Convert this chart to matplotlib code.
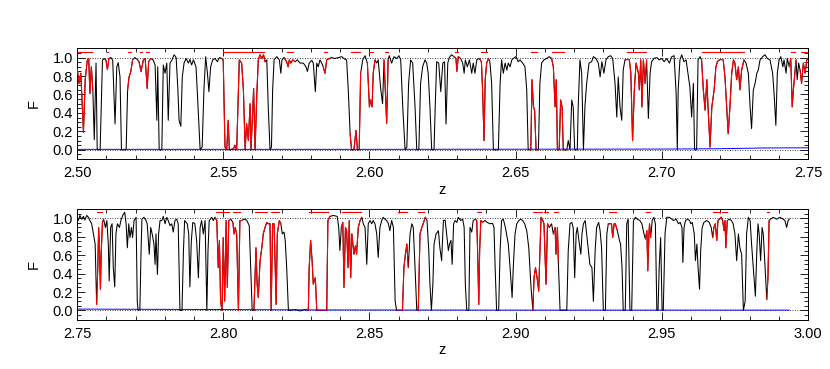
import numpy as np
import matplotlib
matplotlib.use('Agg')
import matplotlib.pyplot as plt
from matplotlib.ticker import MultipleLocator, FormatStrFormatter

plt.rcParams['font.family'] = ['Liberation Sans', 'DejaVu Sans']

# ---- upper panel, 2.50 < z < 2.75 ----
z_top = [2.5001, 2.5007, 2.5013, 2.5022, 2.5028, 2.5035, 2.5040, 2.5044, 2.5049, 2.5054,
         2.5059, 2.5065, 2.5069, 2.5079, 2.5087, 2.5093, 2.5099, 2.5104, 2.5109, 2.5116,
         2.5122, 2.5130, 2.5136, 2.5141, 2.5147, 2.5152, 2.5168, 2.5173, 2.5178, 2.5184,
         2.5190, 2.5198, 2.5206, 2.5212, 2.5219, 2.5227, 2.5233, 2.5240, 2.5245, 2.5252,
         2.5260, 2.5267, 2.5273, 2.5276, 2.5281, 2.5290, 2.5295, 2.5301, 2.5307, 2.5312,
         2.5318, 2.5325, 2.5332, 2.5339, 2.5345, 2.5349, 2.5355, 2.5360, 2.5366, 2.5373,
         2.5381, 2.5386, 2.5392, 2.5398, 2.5407, 2.5411, 2.5421, 2.5428, 2.5434, 2.5440,
         2.5446, 2.5451, 2.5457, 2.5464, 2.5472, 2.5480, 2.5487, 2.5495, 2.5500, 2.5506,
         2.5512, 2.5517, 2.5521, 2.5535, 2.5540, 2.5546, 2.5555, 2.5563, 2.5569, 2.5575,
         2.5580, 2.5586, 2.5592, 2.5595, 2.5601, 2.5604, 2.5609, 2.5615, 2.5620, 2.5626,
         2.5632, 2.5638, 2.5643, 2.5649, 2.5654, 2.5660, 2.5665, 2.5669, 2.5674, 2.5683,
         2.5692, 2.5697, 2.5701, 2.5708, 2.5717, 2.5722, 2.5726, 2.5731, 2.5738, 2.5746,
         2.5753, 2.5763, 2.5774, 2.5783, 2.5788, 2.5794, 2.5803, 2.5808, 2.5815, 2.5820,
         2.5825, 2.5831, 2.5837, 2.5842, 2.5848, 2.5854, 2.5863, 2.5871, 2.5882, 2.5894,
         2.5905, 2.5917, 2.5922, 2.5928, 2.5934, 2.5939, 2.5947, 2.5954, 2.5959, 2.5965,
         2.5970, 2.5977, 2.5985, 2.5993, 2.6000, 2.6004, 2.6009, 2.6013, 2.6019, 2.6025,
         2.6030, 2.6039, 2.6045, 2.6050, 2.6054, 2.6059, 2.6064, 2.6068, 2.6076, 2.6084,
         2.6093, 2.6101, 2.6107, 2.6114, 2.6122, 2.6128, 2.6134, 2.6141, 2.6148, 2.6156,
         2.6162, 2.6169, 2.6175, 2.6182, 2.6190, 2.6196, 2.6201, 2.6207, 2.6213, 2.6221,
         2.6225, 2.6230, 2.6237, 2.6244, 2.6251, 2.6257, 2.6262, 2.6268, 2.6273, 2.6281,
         2.6289, 2.6296, 2.6299, 2.6304, 2.6312, 2.6319, 2.6324, 2.6328, 2.6335, 2.6342,
         2.6350, 2.6355, 2.6361, 2.6367, 2.6376, 2.6383, 2.6387, 2.6392, 2.6396, 2.6401,
         2.6407, 2.6412, 2.6418, 2.6424, 2.6441, 2.6447, 2.6452, 2.6458, 2.6464, 2.6470,
         2.6475, 2.6481, 2.6487, 2.6492, 2.6501, 2.6509, 2.6515, 2.6524, 2.6532, 2.6538,
         2.6543, 2.6552, 2.6556, 2.6561, 2.6565, 2.6570, 2.6578, 2.6583, 2.6589, 2.6597,
         2.6606, 2.6615, 2.6623, 2.6629, 2.6635, 2.6639, 2.6643, 2.6649, 2.6654, 2.6659,
         2.6663, 2.6675, 2.6680, 2.6686, 2.6692, 2.6697, 2.6702, 2.6711, 2.6714, 2.6720,
         2.6726, 2.6732, 2.6737, 2.6743, 2.6751, 2.6760, 2.6766, 2.6775, 2.6783, 2.6789,
         2.6795, 2.6802, 2.6809, 2.6817, 2.6825, 2.6832, 2.6840, 2.6846, 2.6851, 2.6857,
         2.6863, 2.6868, 2.6874, 2.6882, 2.6889, 2.6894, 2.6900, 2.6906, 2.6912, 2.6920,
         2.6923, 2.6928, 2.6932, 2.6937, 2.6943, 2.6948, 2.6954, 2.6960, 2.6965, 2.6973,
         2.6983, 2.6991, 2.7000, 2.7008, 2.7017, 2.7026, 2.7034, 2.7042, 2.7049, 2.7053,
         2.7056, 2.7062, 2.7068, 2.7076, 2.7083, 2.7091, 2.7096, 2.7102, 2.7108, 2.7112,
         2.7119, 2.7124, 2.7131, 2.7136, 2.7142, 2.7148, 2.7154, 2.7158, 2.7165, 2.7171,
         2.7179, 2.7185, 2.7190, 2.7197, 2.7205, 2.7210, 2.7216, 2.7222, 2.7227, 2.7233,
         2.7239, 2.7245, 2.7250, 2.7256, 2.7262, 2.7267, 2.7273, 2.7281, 2.7288, 2.7296,
         2.7302, 2.7307, 2.7313, 2.7319, 2.7325, 2.7330, 2.7336, 2.7345, 2.7353, 2.7361,
         2.7370, 2.7379, 2.7384, 2.7390, 2.7395, 2.7401, 2.7407, 2.7414, 2.7418, 2.7425,
         2.7429, 2.7436, 2.7441, 2.7446, 2.7450, 2.7455, 2.7459, 2.7463, 2.7468, 2.7473,
         2.7478, 2.7484, 2.7490, 2.7496, 2.7500]
f_top = [0.87, 0.72, 0.83, 0.19, 0.76, 0.97, 0.99, 0.61, 0.90, 0.65,
         0.11, 0.94, 0.0, 0.0, 0.97, 0.99, 0.97, 0.87, 0.99, 1.0,
         0.97, 0.28, 0.90, 0.945, 0.79, 0.0, 0.0, 0.65, 0.79, 0.85,
         0.975, 1.0, 0.98, 0.955, 0.85, 0.975, 0.99, 0.665, 0.955, 0.99,
         0.975, 0.92, 0.32, 0.90, 0.0, 0.0, 0.92, 0.83, 0.94, 0.32,
         0.94, 0.975, 1.03, 1.0, 0.65, 0.32, 0.255, 0.79, 0.94, 0.99,
         0.94, 0.98, 0.92, 0.975, 0.90, 0.65, 0.0, 0.03, 0.65, 1.01,
         0.83, 0.63, 0.90, 0.975, 0.99, 0.955, 1.0, 0.99, 0.975, 0.03,
         0.0, 0.32, 0.0, 0.01, 0.05, 0.0, 0.975, 0.94, 0.65, 0.0,
         0.285, 0.10, 0.50, 0.0, 0.43, 0.665, 0.0, 0.61, 0.975, 1.03,
         0.99, 1.03, 0.955, 0.975, 0.465, 0.0, 0.03, 0.65, 0.975, 1.01,
         0.975, 0.83, 0.975, 1.0, 0.955, 0.90, 0.975, 0.94, 0.975, 0.955,
         0.975, 0.94, 0.94, 0.90, 0.85, 0.94, 0.97, 0.94, 0.63, 0.94,
         0.90, 0.975, 0.94, 0.90, 0.83, 0.975, 0.99, 1.0, 0.99, 1.0,
         1.01, 0.98, 0.975, 0.63, 0.175, 0.0, 0.0, 0.21, 0.0, 0.0,
         0.83, 0.975, 1.02, 0.94, 0.465, 0.54, 0.465, 0.83, 0.975, 0.94,
         0.975, 0.65, 0.50, 0.975, 0.68, 0.285, 0.975, 1.02, 0.94, 1.01,
         0.99, 1.02, 0.975, 0.465, 0.0, 0.03, 0.72, 0.975, 0.94, 0.465,
         0.0, 0.0, 0.72, 0.90, 0.975, 0.94, 0.83, 0.465, 0.0, 0.0,
         0.465, 0.955, 0.94, 0.63, 0.94, 0.955, 0.28, 0.94, 1.0, 1.03,
         1.01, 0.99, 0.85, 1.01, 0.99, 0.94, 0.83, 0.975, 0.90, 0.975,
         0.83, 0.94, 0.83, 0.975, 0.99, 0.955, 0.65, 0.10, 0.76, 0.94,
         0.99, 0.955, 0.72, 0.0, 0.0, 0.72, 0.975, 0.83, 0.94, 0.865,
         0.94, 0.90, 0.975, 0.99, 1.01, 0.955, 0.975, 0.94, 0.90, 0.65,
         0.0, 0.0, 0.76, 0.465, 0.43, 0.0, 0.0, 0.72, 0.94, 0.975,
         0.99, 1.01, 0.99, 0.90, 0.465, 0.76, 0.0, 0.0, 0.54, 0.465,
         0.0, 0.0, 0.10, 0.0, 0.54, 0.465, 0.0, 0.0, 0.465, 0.975,
         0.83, 0.0, 0.465, 0.72, 0.94, 0.955, 1.01, 0.99, 0.94, 0.79,
         0.955, 0.83, 0.975, 1.01, 1.02, 0.99, 0.72, 0.355, 0.79, 0.465,
         0.32, 0.865, 0.975, 0.98, 0.975, 0.83, 0.10, 0.65, 0.94, 0.83,
         0.65, 0.975, 0.465, 0.975, 0.72, 0.975, 0.34, 0.83, 0.955, 0.99,
         1.0, 0.975, 0.99, 0.955, 0.99, 0.94, 1.01, 1.02, 0.61, 0.0,
         0.65, 0.975, 1.03, 0.955, 0.975, 0.79, 0.68, 0.355, 0.72, 0.0,
         0.0, 0.975, 1.01, 0.975, 0.65, 0.43, 0.76, 0.465, 0.03, 0.465,
         0.65, 0.90, 0.955, 0.975, 0.98, 0.975, 0.79, 0.465, 0.175, 0.465,
         0.83, 0.975, 0.94, 0.76, 0.90, 0.65, 0.865, 0.975, 0.94, 0.83,
         0.465, 0.23, 0.65, 0.72, 0.83, 0.865, 0.975, 1.01, 1.03, 0.99,
         0.975, 0.83, 0.61, 0.265, 0.83, 0.975, 1.01, 0.90, 0.975, 0.83,
         0.99, 0.90, 0.99, 0.465, 0.65, 0.83, 0.975, 0.76, 0.94, 0.865,
         0.72, 0.94, 0.83, 0.975, 0.99]
red_top = [(2.5000, 2.5050), (2.5101, 2.5107), (2.5174, 2.5185), (2.5216, 2.5223),
           (2.5236, 2.5246), (2.5498, 2.5641), (2.5717, 2.5738), (2.5845, 2.5854),
           (2.5937, 2.5968), (2.5997, 2.6013), (2.6052, 2.6063), (2.6294, 2.6302),
           (2.6383, 2.6402), (2.6553, 2.6572), (2.6625, 2.6666), (2.6880, 2.6946),
           (2.7137, 2.7280), (2.7441, 2.7457), (2.7475, 2.7500)]
ez_top = [2.50, 2.60, 2.70, 2.72, 2.735, 2.75]
err_top = [0.005, 0.005, 0.008, 0.012, 0.02, 0.022]

# ---- lower panel, 2.75 < z < 3.00 ----
z_bot = [2.7500, 2.7504, 2.7510, 2.7516, 2.7522, 2.7527, 2.7533, 2.7539, 2.7544, 2.7550,
         2.7556, 2.7562, 2.7567, 2.7571, 2.7574, 2.7577, 2.7580, 2.7583, 2.7587, 2.7591,
         2.7597, 2.7602, 2.7607, 2.7610, 2.7615, 2.7620, 2.7624, 2.7629, 2.7633, 2.7638,
         2.7645, 2.7650, 2.7656, 2.7663, 2.7668, 2.7672, 2.7677, 2.7681, 2.7686, 2.7690,
         2.7695, 2.7702, 2.7706, 2.7709, 2.7715, 2.7719, 2.7722, 2.7729, 2.7736, 2.7740,
         2.7747, 2.7752, 2.7757, 2.7763, 2.7767, 2.7770, 2.7775, 2.7779, 2.7784, 2.7790,
         2.7795, 2.7801, 2.7807, 2.7812, 2.7818, 2.7824, 2.7829, 2.7835, 2.7841, 2.7846,
         2.7852, 2.7859, 2.7864, 2.7868, 2.7873, 2.7877, 2.7882, 2.7886, 2.7891, 2.7896,
         2.7903, 2.7909, 2.7915, 2.7921, 2.7926, 2.7932, 2.7938, 2.7944, 2.7948, 2.7952,
         2.7961, 2.7966, 2.7972, 2.7978, 2.7983, 2.7987, 2.7991, 2.7996, 2.8000, 2.8005,
         2.8010, 2.8014, 2.8019, 2.8026, 2.8033, 2.8037, 2.8041, 2.8046, 2.8052, 2.8057,
         2.8063, 2.8071, 2.8080, 2.8089, 2.8094, 2.8099, 2.8105, 2.8110, 2.8112, 2.8116,
         2.8120, 2.8126, 2.8132, 2.8137, 2.8143, 2.8149, 2.8154, 2.8160, 2.8164, 2.8169,
         2.8174, 2.8181, 2.8185, 2.8192, 2.8197, 2.8202, 2.8208, 2.8212, 2.8217, 2.8223,
         2.8246, 2.8263, 2.8280, 2.8291, 2.8294, 2.8299, 2.8304, 2.8308, 2.8315, 2.8320,
         2.8354, 2.8358, 2.8365, 2.8377, 2.8390, 2.8395, 2.8399, 2.8404, 2.8409, 2.8413,
         2.8418, 2.8422, 2.8427, 2.8431, 2.8436, 2.8440, 2.8447, 2.8452, 2.8456, 2.8462,
         2.8468, 2.8474, 2.8479, 2.8485, 2.8491, 2.8496, 2.8502, 2.8508, 2.8513, 2.8519,
         2.8525, 2.8530, 2.8536, 2.8542, 2.8547, 2.8553, 2.8559, 2.8565, 2.8570, 2.8576,
         2.8582, 2.8588, 2.8593, 2.8613, 2.8618, 2.8623, 2.8628, 2.8633, 2.8639, 2.8645,
         2.8650, 2.8656, 2.8662, 2.8667, 2.8673, 2.8679, 2.8684, 2.8691, 2.8697, 2.8703,
         2.8707, 2.8712, 2.8717, 2.8721, 2.8728, 2.8736, 2.8741, 2.8747, 2.8753, 2.8759,
         2.8764, 2.8770, 2.8774, 2.8779, 2.8783, 2.8788, 2.8793, 2.8799, 2.8804, 2.8812,
         2.8819, 2.8824, 2.8828, 2.8833, 2.8840, 2.8844, 2.8850, 2.8855, 2.8862, 2.8867,
         2.8870, 2.8874, 2.8877, 2.8881, 2.8887, 2.8895, 2.8903, 2.8912, 2.8921, 2.8926,
         2.8930, 2.8935, 2.8942, 2.8947, 2.8952, 2.8958, 2.8965, 2.8969, 2.8975, 2.8981,
         2.8988, 2.8992, 2.8998, 2.9004, 2.9011, 2.9017, 2.9024, 2.9031, 2.9038, 2.9045,
         2.9052, 2.9059, 2.9063, 2.9068, 2.9075, 2.9079, 2.9084, 2.9087, 2.9093, 2.9097,
         2.9104, 2.9109, 2.9115, 2.9123, 2.9129, 2.9135, 2.9138, 2.9143, 2.9146, 2.9152,
         2.9166, 2.9175, 2.9180, 2.9186, 2.9192, 2.9197, 2.9202, 2.9207, 2.9211, 2.9218,
         2.9223, 2.9227, 2.9232, 2.9238, 2.9243, 2.9249, 2.9254, 2.9261, 2.9266, 2.9272,
         2.9277, 2.9284, 2.9289, 2.9294, 2.9300, 2.9307, 2.9312, 2.9317, 2.9323, 2.9328,
         2.9332, 2.9337, 2.9341, 2.9348, 2.9355, 2.9359, 2.9364, 2.9368, 2.9375, 2.9380,
         2.9385, 2.9391, 2.9397, 2.9403, 2.9410, 2.9416, 2.9425, 2.9432, 2.9439, 2.9444,
         2.9449, 2.9452, 2.9456, 2.9458, 2.9462, 2.9467, 2.9473, 2.9478, 2.9483, 2.9487,
         2.9491, 2.9496, 2.9501, 2.9505, 2.9511, 2.9517, 2.9526, 2.9534, 2.9540, 2.9549,
         2.9557, 2.9563, 2.9569, 2.9572, 2.9576, 2.9581, 2.9588, 2.9595, 2.9599, 2.9604,
         2.9611, 2.9615, 2.9620, 2.9624, 2.9629, 2.9633, 2.9638, 2.9644, 2.9654, 2.9662,
         2.9669, 2.9674, 2.9678, 2.9683, 2.9688, 2.9692, 2.9697, 2.9703, 2.9708, 2.9713,
         2.9716, 2.9719, 2.9724, 2.9731, 2.9738, 2.9744, 2.9750, 2.9756, 2.9762, 2.9767,
         2.9773, 2.9779, 2.9785, 2.9790, 2.9796, 2.9802, 2.9807, 2.9813, 2.9820, 2.9825,
         2.9829, 2.9833, 2.9838, 2.9843, 2.9847, 2.9853, 2.9859, 2.9863, 2.9867, 2.9872,
         2.9881, 2.9893, 2.9904, 2.9915, 2.9921, 2.9927, 2.9932, 2.9936]
f_bot = [0.99, 0.975, 1.03, 0.99, 1.02, 0.98, 1.03, 1.01, 0.975, 0.94,
         0.83, 0.72, 0.065, 0.465, 0.90, 0.65, 0.23, 0.65, 0.955, 0.99,
         0.90, 0.975, 0.72, 0.32, 0.90, 0.94, 0.465, 0.255, 0.83, 0.94,
         0.90, 0.975, 1.03, 1.065, 0.94, 0.68, 0.94, 0.79, 0.90, 0.79,
         0.975, 1.01, 0.10, 0.0, 0.01, 0.65, 0.99, 1.01, 0.975, 0.94,
         0.61, 0.90, 0.83, 0.72, 0.50, 0.83, 0.39, 0.83, 0.975, 0.975,
         1.02, 0.94, 1.01, 0.975, 0.92, 0.94, 0.85, 0.975, 0.99, 0.94,
         0.0, 0.0, 0.65, 0.975, 0.955, 0.94, 0.83, 0.255, 0.76, 0.955,
         0.94, 0.76, 0.355, 0.90, 0.975, 0.83, 0.975, 0.0, 0.65, 0.975,
         1.01, 0.975, 1.01, 0.975, 0.465, 0.76, 0.10, 0.0, 0.79, 0.10,
         0.975, 0.25, 0.975, 0.99, 0.955, 0.83, 0.90, 0.83, 0.0, 0.975,
         0.975, 0.99, 0.98, 0.92, 0.465, 0.0, 0.0, 0.465, 0.68, 0.285,
         0.14, 0.54, 0.68, 0.83, 0.90, 0.955, 0.94, 0.94, 0.0, 0.94,
         0.94, 0.065, 0.83, 0.975, 0.94, 0.83, 0.85, 0.76, 0.465, 0.0,
         0.01, -0.005, 0.01, 0.0, 0.465, 0.76, 0.54, 0.285, 0.355, 0.0,
         0.0, 0.975, 1.02, 1.03, 1.02, 0.90, 0.65, 0.90, 0.955, 0.25,
         0.90, 0.865, 0.465, 0.975, 0.355, 0.83, 0.61, 0.70, 0.61, 0.90,
         0.975, 1.01, 0.94, 0.90, 0.50, 0.94, 0.975, 0.94, 0.975, 0.94,
         0.83, 0.575, 0.90, 0.975, 1.01, 0.99, 0.975, 0.94, 0.865, 0.975,
         0.90, 0.10, 0.0, 0.0, 0.465, 0.61, 0.72, 0.465, 0.83, 0.94,
         0.90, 0.465, 0.0, 0.0, 0.83, 0.90, 0.94, 1.01, 0.975, 0.65,
         0.285, 0.0, 0.285, 0.72, 0.83, 0.865, 0.68, 0.54, 0.975, 0.98,
         0.83, 0.65, 0.72, 0.76, 0.50, 0.94, 0.975, 0.955, 1.01, 0.975,
         0.99, 0.90, 0.285, 0.0, 0.0, 0.90, 0.85, 0.975, 0.99, 0.975,
         0.65, 0.065, 0.65, 0.975, 0.955, 0.975, 0.955, 0.94, 0.945, 0.90,
         0.465, 0.0, 0.0, 0.65, 0.975, 0.99, 0.90, 0.83, 0.72, 0.465,
         0.14, 0.465, 0.83, 0.94, 0.975, 0.99, 0.975, 0.94, 0.865, 0.68,
         0.285, 0.0, 0.355, 0.465, 0.32, 0.21, 0.72, 1.01, 0.975, 0.94,
         0.285, 0.94, 0.90, 0.94, 0.83, 0.90, 0.61, 0.90, 0.54, 0.0,
         0.005, 0.0, 0.65, 0.94, 0.955, 0.90, 0.355, 0.83, 0.90, 0.72,
         0.61, 0.83, 0.94, 0.975, 0.83, 0.65, 0.50, 0.465, 0.10, 0.65,
         0.90, 0.955, 0.865, 0.68, 0.0, 0.0, 0.83, 0.94, 0.94, 0.94,
         0.79, 0.94, 0.94, 0.865, 0.76, 0.72, 0.465, 0.0, 0.0, 0.94,
         0.99, 0.0, 0.0, 0.975, 1.01, 0.99, 0.975, 0.94, 0.83, 0.775,
         0.865, 0.43, 0.83, 0.94, 0.79, 0.975, 1.01, 0.94, 0.0, 0.0,
         0.465, 0.79, 0.0, 0.0, 0.83, 1.01, 1.01, 0.99, 0.975, 0.99,
         0.94, 0.955, 0.90, 0.52, 0.90, 0.975, 0.99, 0.975, 0.94, 0.955,
         0.83, 0.54, 0.72, 0.465, 0.23, 0.65, 0.90, 0.955, 0.975, 0.955,
         0.90, 0.79, 0.90, 0.94, 0.76, 0.975, 0.99, 1.01, 0.975, 0.865,
         0.975, 0.68, 0.975, 0.99, 0.975, 0.94, 0.83, 0.54, 0.83, 0.68,
         0.61, 0.0, 0.10, 0.83, 1.01, 0.975, 0.72, 0.465, 0.155, 0.65,
         0.94, 0.83, 0.54, 0.90, 0.83, 0.465, 0.12, 0.355, 0.975, 0.99,
         1.01, 0.99, 1.01, 0.99, 0.975, 0.90, 0.975, 0.99]
red_bot = [(2.7570, 2.7587), (2.7975, 2.8019), (2.8035, 2.8057), (2.8108, 2.8149),
           (2.8162, 2.8192), (2.8293, 2.8358), (2.8406, 2.8470), (2.8599, 2.8630),
           (2.8665, 2.8685), (2.8867, 2.8881), (2.9061, 2.9090), (2.9097, 2.9112),
           (2.9132, 2.9145), (2.9320, 2.9342), (2.9446, 2.9460), (2.9675, 2.9700),
           (2.9706, 2.9723), (2.9860, 2.9868)]
ez_bot = [2.75, 2.78, 2.80, 2.83, 2.90, 2.9936]
err_bot = [0.015, 0.012, 0.01, 0.006, 0.004, 0.004]


def draw_panel(ax, z, f, red, ez, ef, zlim):
    z = np.array(z)
    f = np.array(f)
    ax.plot(z, f, color='black', lw=0.75, zorder=2)
    for a, b in red:
        idx = np.where((z >= a) & (z <= b))[0]
        if len(idx) == 0:
            continue
        i0 = max(idx[0] - 1, 0)
        i1 = min(idx[-1] + 2, len(z))
        ax.plot(z[i0:i1], f[i0:i1], color='#ff0000', lw=0.8, zorder=3)
        # masked region marker above the continuum
        ax.plot([a, b], [1.065, 1.065], color='#ff0000', lw=0.8, zorder=3)
    ax.plot(ez, ef, color='#0000ff', lw=0.7, zorder=4)
    ax.axhline(1.0, color='black', lw=0.6, ls=(0, (1, 2)), zorder=1)
    ax.axhline(0.0, color='black', lw=0.6, ls=(0, (1, 2)), zorder=1)

    ax.set_xlim(*zlim)
    ax.set_ylim(-0.1, 1.1)
    ax.xaxis.set_major_locator(MultipleLocator(0.05))
    ax.xaxis.set_minor_locator(MultipleLocator(0.01))
    ax.yaxis.set_major_locator(MultipleLocator(0.2))
    ax.yaxis.set_minor_locator(MultipleLocator(0.05))
    ax.xaxis.set_major_formatter(FormatStrFormatter('%.2f'))
    ax.yaxis.set_major_formatter(FormatStrFormatter('%.1f'))
    ax.tick_params(which='both', direction='in', top=True, right=True,
                   labelsize=10.5, width=0.6)
    ax.tick_params(which='major', length=6)
    ax.tick_params(which='minor', length=3)
    ax.tick_params(axis='x', pad=5)
    ax.tick_params(axis='y', pad=3)
    for s in ax.spines.values():
        s.set_linewidth(0.7)
    ax.set_xlabel('z', fontsize=10.5, labelpad=2)
    ax.set_ylabel('F', fontsize=10.5, labelpad=8)


fig = plt.figure(figsize=(8.3, 3.69), dpi=100)
ax1 = fig.add_axes([0.0928, 0.569, 0.8807, 0.300])
ax2 = fig.add_axes([0.0928, 0.1336, 0.8807, 0.300])

draw_panel(ax1, z_top, f_top, red_top, ez_top, err_top, (2.50, 2.75))
draw_panel(ax2, z_bot, f_bot, red_bot, ez_bot, err_bot, (2.75, 3.00))

fig.savefig('out.png', dpi=100)
